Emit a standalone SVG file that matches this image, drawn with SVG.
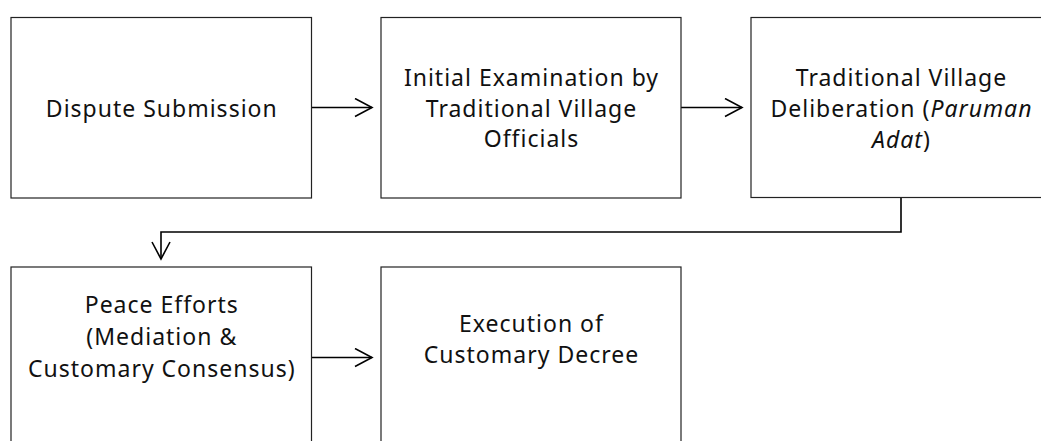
<svg xmlns="http://www.w3.org/2000/svg" width="1041" height="441" viewBox="0 0 1041 441">
<defs>
<style>
.box{fill:#fff;stroke:#222;stroke-width:1.2}
.lbl{font-family:"Noto Sans","Open Sans","Liberation Sans",sans-serif;font-size:23px;letter-spacing:1px;fill:#111;text-anchor:middle}
.conn{fill:none;stroke:#000;stroke-width:1.6}
</style>
<marker id="arr" markerWidth="22" markerHeight="22" refX="18" refY="10" orient="auto" markerUnits="userSpaceOnUse">
<path d="M1,1 L18,10 L1,19" fill="none" stroke="#000" stroke-width="1.6"/>
</marker>
</defs>
<rect width="1041" height="441" fill="#fff"/>
<g id="connectors">
<path class="conn" d="M311.5,107.5 H372" marker-end="url(#arr)"/>
<path class="conn" d="M681,107.5 H742" marker-end="url(#arr)"/>
<path class="conn" d="M901,198 V232 H161 V259" marker-end="url(#arr)"/>
<path class="conn" d="M311.5,357.5 H372" marker-end="url(#arr)"/>
</g>
<g id="n1">
<rect class="box" x="11" y="17.5" width="300.5" height="180.5"/>
<text class="lbl" x="161.8" y="116.5">Dispute Submission</text>
</g>
<g id="n2">
<rect class="box" x="381" y="17.5" width="300" height="180.5"/>
<text class="lbl" x="531.5" y="86">Initial Examination by</text>
<text class="lbl" x="531.5" y="116.7">Traditional Village</text>
<text class="lbl" x="531.5" y="147.3">Officials</text>
</g>
<g id="n3">
<rect class="box" x="751" y="17.5" width="300" height="180"/>
<text class="lbl" x="901.5" y="85.5">Traditional Village</text>
<text class="lbl" x="901.5" y="116.7">Deliberation (<tspan font-style="italic">Paruman</tspan></text>
<text class="lbl" x="901.5" y="148"><tspan font-style="italic">Adat</tspan>)</text>
</g>
<g id="n4">
<rect class="box" x="11" y="267" width="300.5" height="190"/>
<text class="lbl" x="161.8" y="312.7">Peace Efforts</text>
<text class="lbl" x="161.8" y="345">(Mediation &amp;</text>
<text class="lbl" x="161.8" y="377.3">Customary Consensus)</text>
</g>
<g id="n5">
<rect class="box" x="381" y="267" width="300" height="190"/>
<text class="lbl" x="531.5" y="331.7">Execution of</text>
<text class="lbl" x="531.5" y="363.3">Customary Decree</text>
</g>
</svg>
